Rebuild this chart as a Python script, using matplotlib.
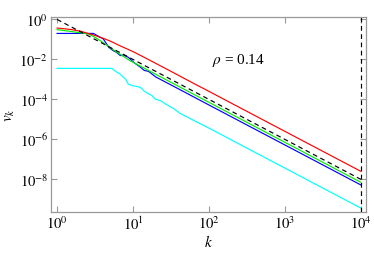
import matplotlib
matplotlib.use("Agg")
import matplotlib.pyplot as plt
from matplotlib.ticker import FixedLocator, NullLocator, FixedFormatter

plt.rcParams['font.family'] = ['Liberation Serif', 'DejaVu Serif']
plt.rcParams['mathtext.fontset'] = 'stix'

# ---- data ----
k_red = [1, 1.5, 2, 3, 4, 5, 7, 10, 14, 20, 30, 60, 100, 1000, 10000]
v_red = [0.355, 0.30, 0.25, 0.16, 0.11, 0.079, 0.043, 0.0235, 0.0122, 0.006, 0.00267, 6.6e-4, 2.4e-4, 2.4e-6, 2.4e-8]

k_green = [1, 1.5, 2.6, 3.0, 3.7, 5.0, 6.2, 7.0, 9.1, 20, 100, 1000, 10000]
v_green = [0.295, 0.24, 0.178, 0.135, 0.083, 0.037, 0.0214, 0.0158, 0.0083, 0.0017, 6.8e-5, 6.8e-7, 6.8e-9]

k_blue = [1, 2, 3.0, 4.07, 4.8, 5.5, 6.0, 6.8, 7.5, 8.7, 10.2, 12.6, 14, 16, 18, 20, 30, 100, 1000, 10000]
v_blue = [0.19, 0.19, 0.19, 0.10, 0.038, 0.026, 0.022, 0.0148, 0.0158, 0.012, 0.0068, 0.0038, 0.0027, 0.0024,
          0.0017, 0.00125, 5.6e-4, 5e-5, 5e-7, 5e-9]

k_cyan = [1, 5.25, 6.17, 6.76, 7.5, 7.94, 8.7, 9.8, 12.6, 13.8, 16.2, 17.8, 19.5, 22.9, 26.9, 34.7, 41.7,
          100, 1000, 10000]
v_cyan = [0.0034, 0.0034, 0.00214, 0.00178, 0.0012, 0.001, 5.6e-4, 4.7e-4, 3.8e-4, 2.6e-4, 1.78e-4, 1.48e-4,
          1.0e-4, 8.3e-5, 5.6e-5, 3.2e-5, 1.9e-5, 3.5e-6, 3.5e-8, 3.5e-10]

k_ref = [1, 10, 100, 1000, 10000]
v_ref = [0.95, 0.0095, 9.5e-5, 9.5e-7, 9.5e-9]

k_max = 10000

xticks = [1, 10, 100, 1000, 10000]
xticklabels = [r'$10^{0}$', r'$10^{1}$', r'$10^{2}$', r'$10^{3}$', r'$10^{4}$']
yticks = [1, 1e-2, 1e-4, 1e-6, 1e-8]
yticklabels = [r'$10^{0}$', r'$10^{-2}$', r'$10^{-4}$', r'$10^{-6}$', r'$10^{-8}$']

# ---- figure ----
fig = plt.figure(figsize=(3.74, 2.55), dpi=100)
ax = fig.add_axes([51/374, 1-213/255, (366-51)/374, (213-17.7)/255])

lw = 0.85
ax.plot(k_cyan, v_cyan, color='#00ffff', lw=lw)
ax.plot(k_blue, v_blue, color='#0000ff', lw=lw)
ax.plot(k_green, v_green, color='#00ee00', lw=lw)
ax.plot(k_red, v_red, color='#ff0000', lw=lw)
ax.plot(k_ref, v_ref, color='black', lw=lw, ls=(0, (4, 3)))
ax.axvline(k_max, color='black', lw=lw, ls=(0, (4, 3)))

ax.set_xscale('log')
ax.set_yscale('log')
ax.set_xlim(10**-0.08, 10**4.066)
ax.set_ylim(10**-9.65, 10**0.115)

ax.xaxis.set_major_locator(FixedLocator(xticks))
ax.xaxis.set_major_formatter(FixedFormatter(xticklabels))
ax.yaxis.set_major_locator(FixedLocator(yticks))
ax.yaxis.set_major_formatter(FixedFormatter(yticklabels))
ax.xaxis.set_minor_locator(NullLocator())
ax.yaxis.set_minor_locator(NullLocator())

ax.tick_params(which='both', direction='in', top=True, right=True, length=4, width=0.8,
               color='#999999', labelsize=10.5)
ax.tick_params(axis='x', pad=2)
ax.tick_params(axis='y', pad=2)
for s in ax.spines.values():
    s.set_color('#999999')
    s.set_linewidth(0.9)

ax.set_xlabel(r'$k$', fontsize=11, labelpad=1)
ax.set_ylabel(r'$v_k$', fontsize=11, labelpad=2)

ax.text(0.594, 0.783, r'$\rho$ = 0.14', transform=ax.transAxes, fontsize=11,
        ha='center', va='center')

fig.savefig('out.png', dpi=100)
